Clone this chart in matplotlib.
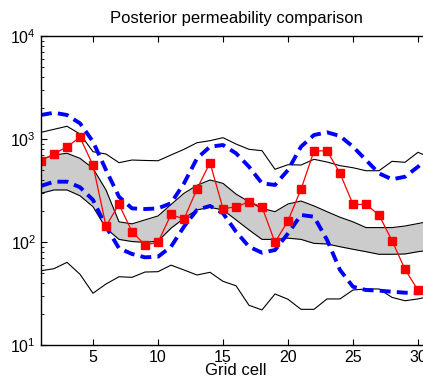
import numpy as np
import matplotlib
matplotlib.use('Agg')
import matplotlib.pyplot as plt

plt.rcParams['font.family'] = ['Liberation Sans', 'DejaVu Sans']

cells = np.arange(1, 32)

# red line with squares
truth = [615, 715, 842, 1039, 555, 143, 232, 126, 93.5, 99.3,
         185, 167, 327, 589, 211, 219, 246, 219, 99.3, 161,
         325, 764, 770, 464, 232, 232, 183, 103, 54.3, 34, 40]

# thin black envelope lines
upper_env = [1161, 1242, 1329, 1118, 753, 715, 589, 625, 619, 615,
             699, 794, 920, 963, 1030, 894, 794, 770, 508, 563,
             559, 635, 598, 551, 526, 492, 492, 607, 594, 743, 654]
lower_env = [52.6, 55.1, 63.5, 48.6, 31.8, 39.1, 46.0, 45.4, 51.1, 51.5,
             59.6, 53.5, 47.8, 50.8, 41.5, 37.6, 24.3, 21.9, 31.3, 27.8,
             22.2, 22.2, 28.0, 28.0, 34.2, 35.0, 35.0, 29.0, 26.9, 28.0, 29.9]

# grey band
band_hi = [635, 699, 727, 649, 519, 320, 157, 150, 164, 179,
           231, 297, 355, 400, 371, 292, 246, 212, 197, 234,
           250, 224, 197, 174, 157, 138, 138, 138, 143, 151, 160]
band_lo = [297, 320, 320, 281, 220, 136, 106, 101, 99.3, 102,
           136, 170, 205, 217, 205, 164, 131, 106, 106, 109,
           106, 97, 95.7, 90, 85, 80.5, 76, 76, 76.5, 80.5, 83.6]

# blue dashed curves
blue_hi = [1710, 1800, 1710, 1420, 942, 500, 275, 212, 209, 212,
           238, 371, 649, 842, 874, 727, 538, 371, 358, 500,
           842, 1094, 1161, 1069, 842, 625, 464, 406, 430, 538, 699]
blue_lo = [350, 385, 385, 340, 256, 141, 86.9, 76.5, 71.0, 71.9,
           90, 141, 205, 224, 190, 126, 90, 78.7, 83.6, 121,
           183, 176, 105, 53.5, 36.8, 34.2, 33.7, 32.9, 32.2, 31.8, 34.2]

fig = plt.figure(figsize=(4.23, 3.78), dpi=100)
ax = fig.add_axes([41/423, 33/378, 390/423, 309/378])

ax.fill_between(cells, band_lo, band_hi, color='#cccccc', lw=0)
ax.plot(cells, band_hi, color='k', lw=0.8)
ax.plot(cells, band_lo, color='k', lw=0.8)
ax.plot(cells, upper_env, color='k', lw=0.8)
ax.plot(cells, lower_env, color='k', lw=0.8)
ax.plot(cells, blue_hi, color='#0000ff', lw=2.8, ls=(0, (2.8, 1.6)))
ax.plot(cells, blue_lo, color='#0000ff', lw=2.8, ls=(0, (2.8, 1.6)))
ax.plot(cells, truth, color='#ff0000', lw=0.9, marker='s', ms=5.5, mec='#ff0000', mfc='#ff0000')

ax.set_yscale('log')
ax.set_ylim(10, 1e4)
ax.set_xlim(1, 31)
ax.set_xticks([5, 10, 15, 20, 25, 30])

ax.tick_params(which='both', direction='in', top=True, right=False, labelsize=11.5)
ax.tick_params(which='major', length=4)
ax.tick_params(which='minor', length=2.5)
for s in ['left', 'bottom', 'top']:
    ax.spines[s].set_linewidth(1.0)
ax.spines['right'].set_visible(False)

ax.set_title('Posterior permeability comparison', fontsize=12, pad=9)
ax.set_xlabel('Grid cell', fontsize=12, labelpad=-1)

fig.savefig('out.png', dpi=100)
